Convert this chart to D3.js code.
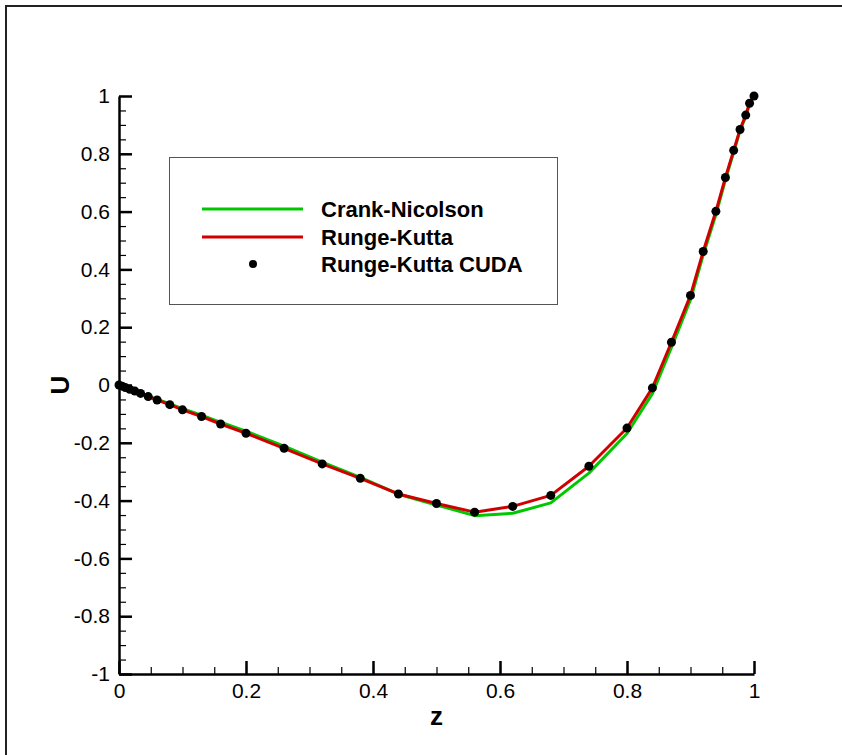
<!DOCTYPE html>
<html>
<head>
<meta charset="utf-8">
<script src="https://cdn.jsdelivr.net/npm/d3@7"></script>
<style>
  body { margin: 0; background: #fff; }
  svg { display: block; font-family: "Liberation Sans", Arial, sans-serif; }
</style>
</head>
<body>
<svg class="chart"></svg>
<script>
// grid points along z (stretched near the walls)
const zGrid = [0, 0.005, 0.01, 0.017, 0.025, 0.034, 0.046, 0.06, 0.08, 0.1, 0.13, 0.16, 0.2,
    0.26, 0.32, 0.38, 0.44, 0.5, 0.56, 0.62, 0.68, 0.74, 0.8, 0.84, 0.87, 0.9, 0.92, 0.94,
    0.955, 0.968, 0.978, 0.987, 0.993, 1];

const cnU = [0, -0.004, -0.008, -0.014, -0.02, -0.027, -0.038, -0.05, -0.065, -0.082, -0.104,
    -0.129, -0.16, -0.212, -0.267, -0.32, -0.378, -0.415, -0.452, -0.444, -0.408, -0.305,
    -0.168, -0.03, 0.13, 0.295, 0.45, 0.59, 0.71, 0.805, 0.88, 0.93, 0.973, 1.0];

const rkU = [0, -0.004, -0.009, -0.015, -0.021, -0.029, -0.04, -0.052, -0.068, -0.086, -0.109,
    -0.135, -0.167, -0.219, -0.273, -0.323, -0.377, -0.41, -0.44, -0.42, -0.382, -0.281,
    -0.149, -0.01, 0.148, 0.31, 0.462, 0.601, 0.718, 0.812, 0.884, 0.934, 0.975, 1.0];

const cudaU = [0, -0.004, -0.009, -0.015, -0.021, -0.029, -0.04, -0.052, -0.068, -0.086, -0.109,
    -0.135, -0.167, -0.219, -0.273, -0.323, -0.377, -0.41, -0.44, -0.42, -0.382, -0.281,
    -0.149, -0.01, 0.148, 0.31, 0.462, 0.601, 0.718, 0.812, 0.884, 0.934, 0.975, 1.0];

const xTicks = [0, 0.2, 0.4, 0.6, 0.8, 1];
const yTicks = [-1, -0.8, -0.6, -0.4, -0.2, 0, 0.2, 0.4, 0.6, 0.8, 1];
const legendNames = ['Crank-Nicolson', 'Runge-Kutta', 'Runge-Kutta CUDA'];

const width = 842, height = 755;
const plot = {left: 119, right: 754, top: 96, bottom: 674};
const green = '#00c800', red = '#d00000';

const svg = d3.select('.chart')
    .attr('width', width)
    .attr('height', height);

// outer frame (only top and left edges visible)
svg.append('path')
    .attr('d', `M6,${height} L6,6 L${width},6`)
    .attr('fill', 'none')
    .attr('stroke', '#222')
    .attr('stroke-width', 2);

const xScale = d3.scaleLinear().domain([0, 1]).range([plot.left, plot.right]);
const yScale = d3.scaleLinear().domain([-1, 1]).range([plot.bottom, plot.top]);

// plain hyphen for negatives, like the original
const fmt = d => String(+d.toFixed(1));

// minor ticks
svg.append('g')
    .attr('transform', `translate(0, ${plot.bottom})`)
    .call(d3.axisBottom(xScale).tickValues(d3.range(0, 1.0001, 0.05)).tickSize(-7).tickFormat(''))
    .call(g => g.select('.domain').remove())
    .call(g => g.selectAll('line').attr('stroke-width', 1.2));
svg.append('g')
    .attr('transform', `translate(${plot.left}, 0)`)
    .call(d3.axisLeft(yScale).tickValues(d3.range(-1, 1.0001, 0.05)).tickSize(-7).tickFormat(''))
    .call(g => g.select('.domain').remove())
    .call(g => g.selectAll('line').attr('stroke-width', 1.2));

// major ticks and labels
const xAxis = svg.append('g')
    .attr('transform', `translate(0, ${plot.bottom})`)
    .call(d3.axisBottom(xScale).tickValues(xTicks).tickSizeInner(-13).tickSizeOuter(0)
        .tickPadding(9).tickFormat(fmt));
const yAxis = svg.append('g')
    .attr('transform', `translate(${plot.left}, 0)`)
    .call(d3.axisLeft(yScale).tickValues(yTicks).tickSizeInner(-13).tickSizeOuter(0)
        .tickPadding(9).tickFormat(fmt));

[xAxis, yAxis].forEach(ax => {
    ax.select('.domain').attr('stroke-width', 2.5).attr('stroke', '#000');
    ax.selectAll('line').attr('stroke-width', 2.5).attr('stroke', '#000');
    ax.selectAll('text')
        .attr('fill', '#000')
        .style('font-size', '21px')
        .style('font-family', '"Liberation Sans", Arial, sans-serif');
});

// axis titles
svg.append('text')
    .attr('x', xScale(0.5))
    .attr('y', 725)
    .attr('text-anchor', 'middle')
    .style('font-size', '26px')
    .style('font-weight', 'bold')
    .text('z');
svg.append('text')
    .attr('transform', `translate(69, ${yScale(0)}) rotate(-90)`)
    .attr('text-anchor', 'middle')
    .style('font-size', '26px')
    .style('font-weight', 'bold')
    .text('U');

// curves
const line = d3.line().x(d => xScale(d[0])).y(d => yScale(d[1]));

svg.append('path')
    .datum(zGrid.map((z, i) => [z, cnU[i]]))
    .attr('d', line)
    .attr('fill', 'none')
    .attr('stroke', green)
    .attr('stroke-width', 3)
    .attr('stroke-linejoin', 'round');

svg.append('path')
    .datum(zGrid.map((z, i) => [z, rkU[i]]))
    .attr('d', line)
    .attr('fill', 'none')
    .attr('stroke', red)
    .attr('stroke-width', 3)
    .attr('stroke-linejoin', 'round');

svg.selectAll('.dot')
    .data(zGrid.map((z, i) => [z, cudaU[i]]))
    .enter()
    .append('circle')
    .classed('dot', true)
    .attr('cx', d => xScale(d[0]))
    .attr('cy', d => yScale(d[1]))
    .attr('r', 4.5)
    .attr('fill', '#000');

// legend
const legend = svg.append('g');
legend.append('rect')
    .attr('x', 169.5).attr('y', 157.5)
    .attr('width', 388).attr('height', 147)
    .attr('fill', '#fff')
    .attr('stroke', '#555')
    .attr('stroke-width', 1);

const rows = [
    {name: legendNames[0], y: 209, kind: 'line', color: green},
    {name: legendNames[1], y: 237, kind: 'line', color: red},
    {name: legendNames[2], y: 264, kind: 'dot', color: '#000'},
];
rows.forEach(r => {
    if (r.kind === 'line') {
        legend.append('line')
            .attr('x1', 202).attr('x2', 303)
            .attr('y1', r.y).attr('y2', r.y)
            .attr('stroke', r.color)
            .attr('stroke-width', 3);
    } else {
        legend.append('circle')
            .attr('cx', 253).attr('cy', r.y)
            .attr('r', 4)
            .attr('fill', r.color);
    }
    legend.append('text')
        .attr('x', 321)
        .attr('y', r.y + 8)
        .style('font-size', '22px')
        .style('font-weight', 'bold')
        .text(r.name);
});
</script>
</body>
</html>
